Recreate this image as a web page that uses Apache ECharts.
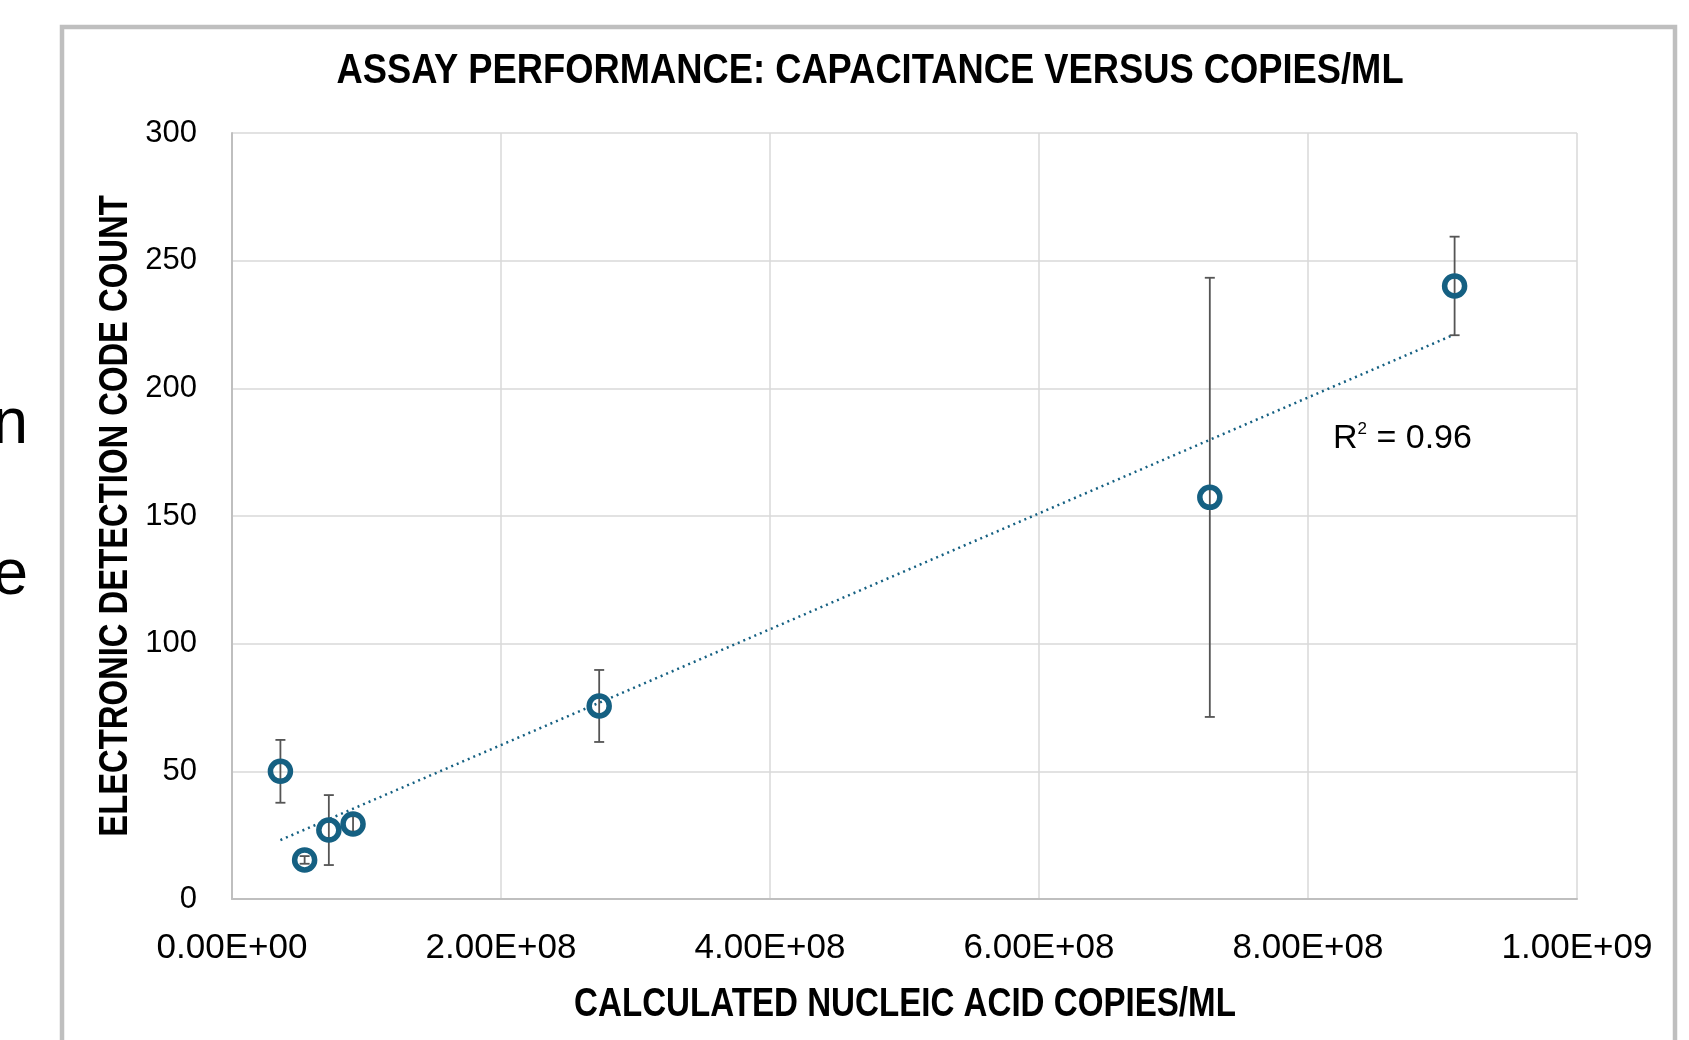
<!DOCTYPE html>
<html>
<head>
<meta charset="utf-8">
<script src="https://cdn.jsdelivr.net/npm/echarts@6/dist/echarts.min.js"></script>
<style>
  html, body { margin: 0; padding: 0; background: #ffffff; }
  #chart { width: 1689px; height: 1040px; }
</style>
</head>
<body>
<div id="chart"></div>
<script>
// ---- data ----
const copies = [3.6e7, 5.4e7, 7.2e7, 9.0e7, 2.73e8, 7.27e8, 9.09e8];
const counts = [50, 15.3, 27, 29.4, 75.6, 157.3, 240.1];
const errors = [12.3, 1.5, 13.7, 3, 14.1, 86, 19.3];
const xTicks = { min: 0, max: 1e9, interval: 2e8 };
const yTicks = { min: 0, max: 300, interval: 50 };
const titleText = 'ASSAY PERFORMANCE: CAPACITANCE VERSUS COPIES/ML';
const xName = 'CALCULATED NUCLEIC ACID COPIES/ML';
const yName = 'ELECTRONIC DETECTION CODE COUNT';
const r2Text = '0.96';

// ---- linear trendline (least squares over the data) ----
const n = copies.length;
const mx = copies.reduce((a, b) => a + b, 0) / n;
const my = counts.reduce((a, b) => a + b, 0) / n;
let sxy = 0, sxx = 0;
for (let i = 0; i < n; i++) { sxy += (copies[i] - mx) * (counts[i] - my); sxx += (copies[i] - mx) ** 2; }
const slope = sxy / sxx, icpt = my - slope * mx;
const xLo = Math.min(...copies), xHi = Math.max(...copies);
const trend = [[xLo, icpt + slope * xLo], [xHi, icpt + slope * xHi]];

const points = copies.map((c, i) => [c, counts[i]]);
const errData = copies.map((c, i) => [c, counts[i], errors[i]]);

function sci(v) {
  if (v === 0) return '0.00E+00';
  const e = Math.floor(Math.log10(Math.abs(v)));
  const m = v / Math.pow(10, e);
  const es = (e < 0 ? '-' : '+') + String(Math.abs(e)).padStart(2, '0');
  return m.toFixed(2) + 'E' + es;
}

const SANS = "'Liberation Sans', Arial, sans-serif";
const BLUE = '#156082';
const ERR = '#555555';

const chart = echarts.init(document.getElementById('chart'), null, { renderer: 'canvas' });
chart.setOption({
  animation: false,
  backgroundColor: '#ffffff',
  graphic: [
    { type: 'rect', z: -10, silent: true,
      shape: { x: 62, y: 27, width: 1613, height: 1100 },
      style: { fill: '#ffffff', stroke: '#bfbfbf', lineWidth: 4.5 } },
    { type: 'text', silent: true, x: 28, y: 425,
      style: { text: 'n', font: '64px ' + SANS, fill: '#000', align: 'right', verticalAlign: 'middle' } },
    { type: 'text', silent: true, x: 28, y: 576,
      style: { text: 'e', font: '64px ' + SANS, fill: '#000', align: 'right', verticalAlign: 'middle' } },
    // chart title (condensed bold)
    { type: 'text', silent: true, x: 870, y: 71, scaleX: 0.865, z: 10,
      style: { text: titleText, font: 'bold 42px ' + SANS, fill: '#000', align: 'center', verticalAlign: 'middle' } },
    // x axis title
    { type: 'text', silent: true, x: 905, y: 1005, scaleX: 0.828, z: 10,
      style: { text: xName, font: 'bold 40px ' + SANS, fill: '#000', align: 'center', verticalAlign: 'middle' } },
    // y axis title
    { type: 'text', silent: true, x: 116, y: 516, rotation: Math.PI / 2, scaleX: 0.82, z: 10,
      style: { text: yName, font: 'bold 40px ' + SANS, fill: '#000', align: 'center', verticalAlign: 'middle' } },
    // R^2 label
    { type: 'text', silent: true, x: 1333, y: 439, z: 20,
      style: {
        text: '{r|R}{s|2}{r| = ' + r2Text + '}',
        verticalAlign: 'middle', align: 'left',
        rich: {
          r: { fontFamily: SANS, fontSize: 34, lineHeight: 36, fill: '#000', color: '#000' },
          s: { fontFamily: SANS, fontSize: 17, lineHeight: 17, verticalAlign: 'top', fill: '#000', color: '#000' }
        }
      } }
  ],
  grid: { left: 232, top: 133, right: 112, bottom: 141, containLabel: false },
  xAxis: {
    type: 'value', min: xTicks.min, max: xTicks.max, interval: xTicks.interval,
    axisLine: { show: true, lineStyle: { color: '#bfbfbf', width: 2 } },
    axisTick: { show: false },
    splitLine: { show: true, lineStyle: { color: '#d9d9d9', width: 1.5 } },
    axisLabel: { formatter: sci, fontFamily: SANS, fontSize: 35, color: '#000', margin: 32 }
  },
  yAxis: {
    type: 'value', min: yTicks.min, max: yTicks.max, interval: yTicks.interval,
    axisLine: { show: true, lineStyle: { color: '#bfbfbf', width: 2 } },
    axisTick: { show: false },
    splitLine: { show: true, lineStyle: { color: '#d9d9d9', width: 1.5 } },
    axisLabel: { fontFamily: SANS, fontSize: 31, color: '#000', margin: 35 }
  },
  series: [
    {
      type: 'line', data: trend, showSymbol: false, silent: true, z: 2,
      lineStyle: { color: BLUE, width: 2.5, type: [2, 4], opacity: 1 }
    },
    {
      type: 'custom', data: errData, silent: true, z: 3,
      renderItem: function (params, api) {
        const x = api.value(0), y = api.value(1), e = api.value(2);
        const t = api.coord([x, y + e]);
        const b = api.coord([x, y - e]);
        const h = 5;
        const st = { stroke: ERR, lineWidth: 1.8 };
        return { type: 'group', children: [
          { type: 'line', shape: { x1: t[0], y1: t[1], x2: b[0], y2: b[1] }, style: st },
          { type: 'line', shape: { x1: t[0] - h, y1: t[1], x2: t[0] + h, y2: t[1] }, style: st },
          { type: 'line', shape: { x1: b[0] - h, y1: b[1], x2: b[0] + h, y2: b[1] }, style: st }
        ] };
      }
    },
    {
      type: 'scatter', data: points, symbol: 'circle', symbolSize: 20, z: 4,
      itemStyle: { color: 'rgba(0,0,0,0)', borderColor: BLUE, borderWidth: 5.5, opacity: 1 },
      emphasis: { disabled: true }
    }
  ]
});
</script>
</body>
</html>
